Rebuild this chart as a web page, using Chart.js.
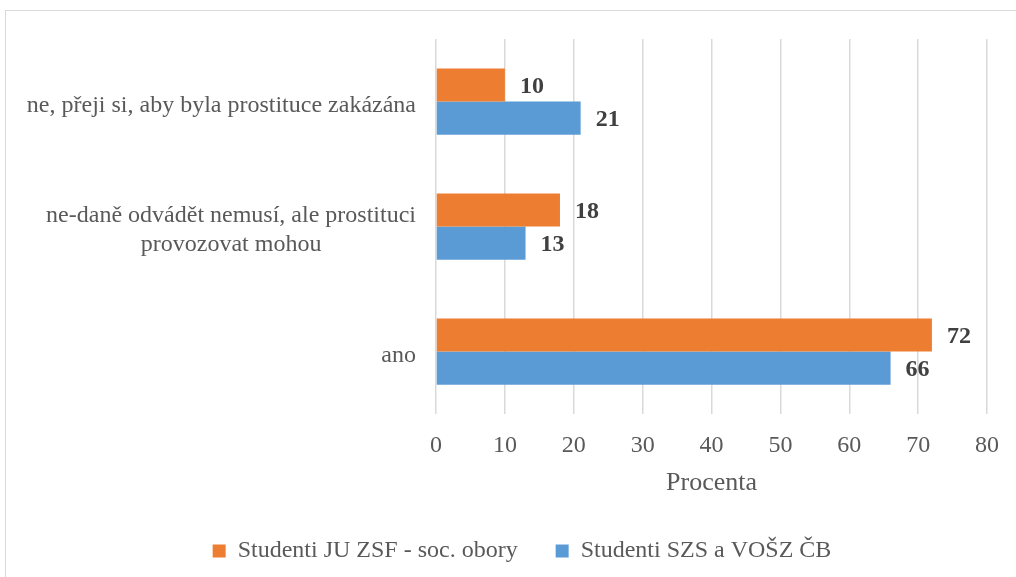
<!DOCTYPE html>
<html>
<head>
<meta charset="utf-8">
<script src="https://cdn.jsdelivr.net/npm/chart.js@4.4.0/dist/chart.umd.min.js"></script>
<style>
  html, body { margin: 0; padding: 0; background: #fff; overflow: hidden; }
  #wrap { position: relative; width: 1016px; height: 577px; }
  #frame { position: absolute; left: 5px; top: 10px; width: 1100px; height: 700px;
           border-left: 1px solid #d9d9d9; border-top: 1px solid #d9d9d9; pointer-events: none; }
</style>
</head>
<body>
<div id="wrap">
  <canvas id="chart" width="1016" height="577"></canvas>
  <div id="frame"></div>
</div>
<script>
var categories = [
  ["ne, přeji si, aby byla prostituce zakázána"],
  ["ne-daně odvádět nemusí, ale prostituci", "provozovat mohou"],
  ["ano"]
];
var seriesNames = ["Studenti JU ZSF - soc. obory", "Studenti SZS a VOŠZ ČB"];
var jzsfValues = [10, 18, 72];
var szsValues = [21, 13, 66];
var xTicks = [0, 10, 20, 30, 40, 50, 60, 70, 80];

var serif = "'Liberation Serif', 'Times New Roman', serif";

// y labels: block right aligned, lines centred inside the block
var yLabels = {
  id: 'yLabels',
  afterDraw: function (chart) {
    var ctx = chart.ctx;
    var yScale = chart.scales.y;
    var right = chart.chartArea.left - 20;
    ctx.save();
    ctx.font = '24px ' + serif;
    ctx.fillStyle = '#595959';
    ctx.textAlign = 'center';
    ctx.textBaseline = 'middle';
    var lh = 29;
    categories.forEach(function (lines, i) {
      var w = 0;
      lines.forEach(function (l) { w = Math.max(w, ctx.measureText(l).width); });
      var cx = right - w / 2;
      var cy = yScale.getPixelForValue(i) + 4 - (lines.length - 1) * lh / 2;
      lines.forEach(function (l, k) { ctx.fillText(l, cx, cy + k * lh); });
    });
    ctx.restore();
  }
};

// value labels at the bar ends
var valueLabels = {
  id: 'valueLabels',
  afterDatasetsDraw: function (chart) {
    var ctx = chart.ctx;
    ctx.save();
    ctx.font = 'bold 24px ' + serif;
    ctx.fillStyle = '#404040';
    ctx.textAlign = 'left';
    ctx.textBaseline = 'middle';
    chart.data.datasets.forEach(function (ds, di) {
      chart.getDatasetMeta(di).data.forEach(function (bar, i) {
        ctx.fillText(ds.data[i], bar.x + 15, bar.y + 2);
      });
    });
    ctx.restore();
  }
};

new Chart(document.getElementById("chart"), {
  type: 'bar',
  data: {
    labels: categories.map(function (c) { return c.join(' '); }),
    datasets: [
      {
        label: seriesNames[0],
        data: jzsfValues,
        backgroundColor: '#ED7D31',
        categoryPercentage: 0.53,
        barPercentage: 1
      },
      {
        label: seriesNames[1],
        data: szsValues,
        backgroundColor: '#5B9BD5',
        categoryPercentage: 0.53,
        barPercentage: 1
      }
    ]
  },
  options: {
    indexAxis: 'y',
    responsive: false,
    animation: false,
    layout: {
      padding: { left: 51, right: 23, top: 39, bottom: 4 }
    },
    scales: {
      x: {
        min: 0,
        max: 80,
        afterBuildTicks: function (s) { s.ticks = xTicks.map(function (v) { return { value: v }; }); },
        afterFit: function (s) { s.height = 87; },
        grid: { color: '#d9d9d9', lineWidth: 1.5, drawTicks: false },
        border: { display: false },
        ticks: {
          padding: 17,
          color: '#595959',
          font: { family: serif, size: 24 }
        },
        title: {
          display: true,
          text: 'Procenta',
          color: '#595959',
          font: { family: serif, size: 26 },
          padding: { top: 10, bottom: 2 }
        }
      },
      y: {
        grid: { display: false },
        border: { display: false },
        ticks: { display: false },
        afterFit: function (s) { s.width = 436 - 51; }
      }
    },
    plugins: {
      legend: {
        position: 'bottom',
        labels: {
          boxWidth: 13,
          boxHeight: 13,
          padding: 38,
          color: '#595959',
          font: { family: serif, size: 24 }
        }
      },
      tooltip: { enabled: false }
    }
  },
  plugins: [yLabels, valueLabels]
});
</script>
</body>
</html>
